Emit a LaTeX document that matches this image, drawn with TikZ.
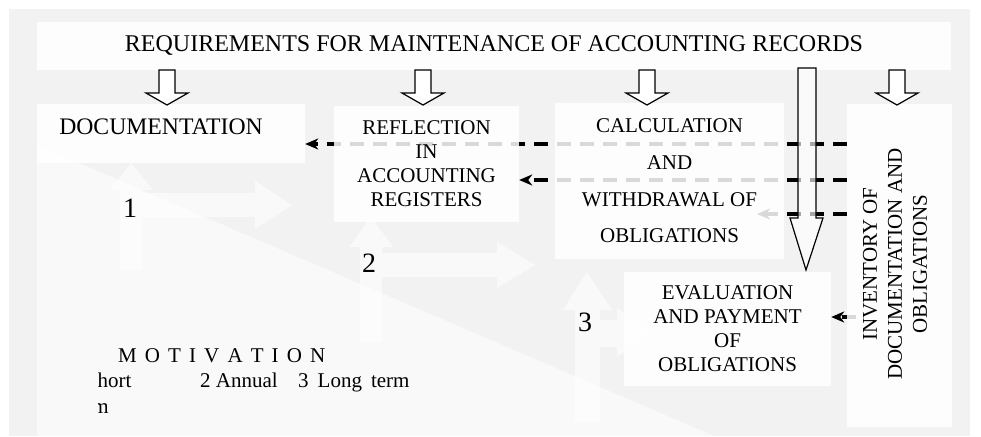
\documentclass[tikz,border=0pt]{standalone}
\usepackage{fontspec}
\setmainfont{Liberation Serif}
\usetikzlibrary{arrows.meta}

\definecolor{sheet}{HTML}{F2F2F2}
\pgfdeclarelayer{back}
\pgfsetlayers{back,main}

\tikzset{
  box/.style={fill=white, fill opacity=.85, text opacity=1, inner sep=0pt, align=center, font=\fontsize{21}{24}\selectfont},
  ghost/.style={fill=white, fill opacity=.6},
  link/.style={line width=3.5pt, dash pattern=on 14pt off 9pt, -{Stealth[length=13pt, width=11pt, inset=4pt]}},
  hollow/.style={draw=black, line width=1.2pt, fill=white},
  digit/.style={inner sep=0pt, font=\fontsize{28}{30}\selectfont},
  note/.style={anchor=base west, inner sep=0pt, font=\fontsize{21}{24}\selectfont}
}

\begin{document}
\begin{tikzpicture}[x=1pt, y=-1pt]
\useasboundingbox (0,0) rectangle (981,436);

% boxes
\node [box, minimum width=914, minimum height=48, font=\fontsize{24}{28}\selectfont] (req) at (494,46) {REQUIREMENTS FOR MAINTENANCE OF ACCOUNTING RECORDS};
\node [box, minimum width=268, minimum height=59] (docu) at (171,133.5) {};
\node [inner sep=0pt, font=\fontsize{23.7}{26}\selectfont] (docutext) at (161,127) {DOCUMENTATION};
\node [box, minimum width=185, minimum height=116] (refl) at (426.5,164) {REFLECTION\\IN\\ACCOUNTING\\REGISTERS};
\node [box, minimum width=229, minimum height=156, font=\fontsize{21}{36.7}\selectfont] (calc) at (669.5,181) {CALCULATION\\AND\\WITHDRAWAL OF\\OBLIGATIONS};
\node [box, minimum width=207, minimum height=114] (eval) at (727.5,329) {EVALUATION\\AND PAYMENT\\OF\\OBLIGATIONS};
\node [box, minimum width=105, minimum height=323] (inv) at (899.5,265.5) {};
\node [rotate=90, align=center, inner sep=0pt, font=\fontsize{21}{25}\selectfont] (invtext) at (895,264) {INVENTORY OF\\DOCUMENTATION AND\\OBLIGATIONS};

\coordinate (l1) at (0,144);
\coordinate (l2) at (0,180);
\coordinate (l3) at (757,214);
\coordinate (l4) at (856,317);

\begin{pgfonlayer}{back}
\fill [sheet] (9,9) rectangle (970,436);
\fill [ghost] (37,145) -- (714,436) -- (37,436) -- cycle;
% faint arrows
\fill [ghost] (120,270) -- (120,190) -- (110,190) -- (131,163) -- (153,190) -- (142,190) -- (142,270) -- cycle;
\fill [ghost] (142,193) -- (255,193) -- (255,181) -- (292,205) -- (255,229) -- (255,217) -- (142,217) -- cycle;
\fill [ghost] (360,342) -- (360,247) -- (349,247) -- (371,217) -- (393,247) -- (382,247) -- (382,342) -- cycle;
\fill [ghost] (382,253) -- (497,253) -- (497,242) -- (535,265) -- (497,288) -- (497,277) -- (382,277) -- cycle;
\fill [ghost] (575,422) -- (575,310) -- (563,310) -- (587,272) -- (612,310) -- (600,310) -- (600,422) -- cycle;
\fill [ghost] (600,320) -- (617,320) -- (617,308) -- (650,332) -- (617,357) -- (617,347) -- (600,347) -- cycle;
% dashed links
\draw [link] (inv.west |- l1) -- (docu.east |- l1);
\draw [link] (inv.west |- l2) -- (refl.east |- l2);
\draw [link] (inv.west |- l3) -- (l3);
\draw [link] (l4) -- (eval.east |- l4);
\end{pgfonlayer}

\node [digit] (one) at (130,208) {1};
\node [digit] (two) at (369,263) {2};
\node [digit] (three) at (585,322) {3};

% block arrows
\foreach \c in {167,423,647,897}
  \draw [hollow] (\c-8,70) -- (\c-8,93) -- (\c-21,93) -- (\c,105) -- (\c+21,93) -- (\c+8,93) -- (\c+8,70) -- cycle;
\draw [line width=1.2pt, fill=white, fill opacity=.65] (798,68) -- (816,68) -- (816,218) -- (823,218) -- (806,270) -- (790,218) -- (798,218) -- cycle;

% motivation
\node [note] (motiv) at (118,362) {\spaceskip=8.1pt M O T I V A T I O N};
\begin{scope}
\clip (98,360) rectangle (190,430);
\node [note] (short) at (70,387) {1 Short};
\node [note] (term) at (70,413) {term};
\end{scope}
\node [note] (annual) at (200,387) {2 Annual};
\node [note] (long) at (298,387) {\spaceskip=9pt 3 Long term};
\end{tikzpicture}
\end{document}
